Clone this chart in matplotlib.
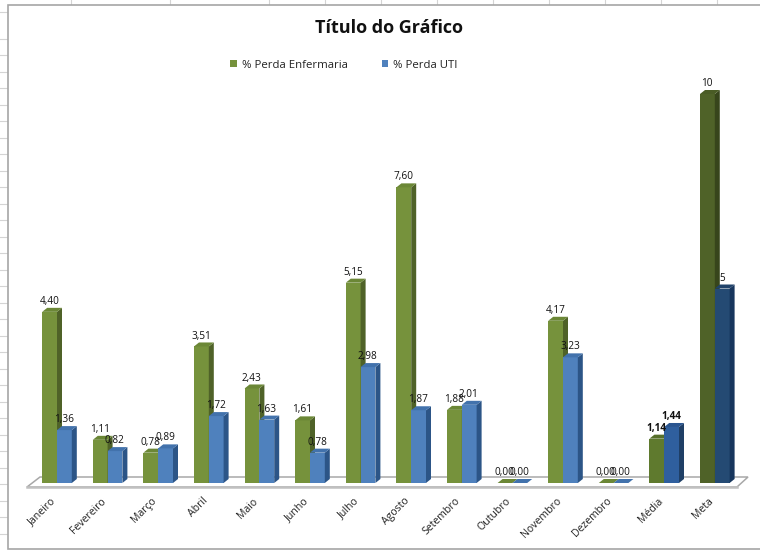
import matplotlib
matplotlib.use("Agg")
import matplotlib.pyplot as plt
from matplotlib.patches import Polygon, Rectangle
from matplotlib.lines import Line2D
from matplotlib.transforms import ScaledTranslation

categories = ["Janeiro", "Fevereiro", "Março", "Abril", "Maio", "Junho", "Julho", "Agosto",
              "Setembro", "Outubro", "Novembro", "Dezembro", "Média", "Meta"]
enfermaria = [4.40, 1.11, 0.78, 3.51, 2.43, 1.61, 5.15, 7.60, 1.88, 0.00, 4.17, 0.00, 1.14, 10]
uti = [1.36, 0.82, 0.89, 1.72, 1.63, 0.78, 2.98, 1.87, 2.01, 0.00, 3.23, 0.00, 1.44, 5]
labels_enf = ["4,40", "1,11", "0,78", "3,51", "2,43", "1,61", "5,15", "7,60", "1,88", "0,00", "4,17", "0,00", "1,14", "10"]
labels_uti = ["1,36", "0,82", "0,89", "1,72", "1,63", "0,78", "2,98", "1,87", "2,01", "0,00", "3,23", "0,00", "1,44", "5"]
series_names = ["% Perda Enfermaria", "% Perda UTI"]
title = "Título do Gráfico"

W, H = 760, 552
FONT = "Open Sans"
plt.rcParams["font.family"] = [FONT, "DejaVu Sans"]
fig = plt.figure(figsize=(W / 100, H / 100), dpi=100, facecolor="white")


def fx(p):
    return p / W


def fy(p):
    return 1 - p / H


# spreadsheet grid behind the chart
for y in [12, 39, 55, 72, 88, 105, 121, 138, 154, 171, 187, 204, 220, 237, 253, 270, 286, 303, 319,
          336, 352, 369, 385, 402, 418, 435, 451, 468, 484, 501, 517, 534]:
    fig.add_artist(Line2D([0, fx(8)], [fy(y), fy(y)], color="#d4d4d4", lw=0.8, zorder=-3))
for x in [71, 170, 269, 325, 381, 437, 493, 549, 605, 661, 717]:
    fig.add_artist(Line2D([fx(x), fx(x)], [fy(0), fy(5)], color="#d4d4d4", lw=0.8, zorder=-3))
fig.add_artist(Rectangle((fx(8), fy(549)), fx(760 - 8 + 10), fy(5) - fy(549), transform=fig.transFigure,
                         fc="white", ec="#a6a6a6", lw=1.2, zorder=-2))

L, R, T, B = 27, 737, 60, 483
ax = fig.add_axes([fx(L), fy(B), fx(R - L), fy(T) - fy(B)])
ax.patch.set_alpha(0)
ax.set_xlim((L - 57) / 50.6, (R - 57) / 50.6)
ax.set_ylim(0, (B - T) / 38.9)
for s in ax.spines.values():
    s.set_visible(False)
ax.set_yticks([])
ax.set_xticks(range(len(categories)))
ax.set_xticklabels(categories, rotation=45, ha="right", va="center", rotation_mode="anchor",
                   fontsize=7.6, color="#222222")
ax.tick_params(axis="x", length=0, pad=12)
shift = ScaledTranslation(-3 / 100, 0, fig.dpi_scale_trans)
for lab in ax.get_xticklabels():
    lab.set_transform(lab.get_transform() + shift)

bw = 14.8 / 50.6
ddx, ddy = 5 / 50.6, 4 / 38.9
x0, x1 = ax.get_xlim()
fl = 4 / 38.9
# floor
ax.add_patch(Polygon([(x0, -fl), (x1, -fl), (x1 + 11 / 50.6, 6 / 38.9), (x0 + 13 / 50.6, 6 / 38.9)],
                     closed=True, fc="white", ec="#a8a8a8", lw=1.1, clip_on=False, zorder=1))
ax.plot([x0, x1], [-fl, -fl], color="#c0c0c0", lw=1.8, clip_on=False, zorder=1.1)

palette = {
    "enf": ("#76923C", "#6b8736", "#4F6228"),
    "uti": ("#4F81BD", "#4272ac", "#2C5587"),
    "enf_m": ("#5F7A2E", "#566f2a", "#3f4f20"),
    "uti_m": ("#2F5F9E", "#2a5590", "#1F3F66"),
    "enf_t": ("#4F6228", "#4a5c25", "#37451b"),
    "uti_t": ("#244A73", "#20426a", "#17365D"),
}


def bar3d(x, v, cols, z):
    front, top, side = cols
    ax.bar(x, v, width=bw, align="edge", color=front, lw=0, zorder=z)
    ax.add_patch(Polygon([(x + bw, 0), (x + bw + ddx, ddy), (x + bw + ddx, v + ddy), (x + bw, v)],
                         closed=True, fc=side, ec="none", zorder=z))
    ax.add_patch(Polygon([(x, v), (x + ddx, v + ddy), (x + bw + ddx, v + ddy), (x + bw, v)],
                         closed=True, fc=top, ec="none", zorder=z))


for i in range(len(categories)):
    sfx = "" if i < 12 else ("_m" if i == 12 else "_t")
    bar3d(i - bw, enfermaria[i], palette["enf" + sfx], 2)
    bar3d(i, uti[i], palette["uti" + sfx], 3)

for i in range(len(categories)):
    w = "bold" if i == 12 else "normal"
    ax.annotate(labels_enf[i], (i - bw + (bw + ddx) / 2, enfermaria[i]), xytext=(-2, 7.5), textcoords="offset points",
                ha="center", va="center", fontsize=7.2, weight=w, color="#111111", zorder=5)
    ax.annotate(labels_uti[i], (i + (bw + ddx) / 2, uti[i]), xytext=(-2, 7.5), textcoords="offset points",
                ha="center", va="center", fontsize=7.2, weight=w, color="#111111", zorder=5)

fig.text(fx(389), fy(28), title, ha="center", va="center", fontsize=13, weight="bold", color="#111111")

handles = [Rectangle((0, 0), 1, 1, fc="#76923C"), Rectangle((0, 0), 1, 1, fc="#4F81BD")]
fig.legend(handles, series_names, loc="center", bbox_to_anchor=(fx(344), fy(65)), ncol=2, frameon=False,
           fontsize=8.2, handlelength=0.55, handleheight=0.55, handletextpad=0.45, columnspacing=3.0,
           labelcolor="#222222")

fig.savefig("out.png", dpi=100)
